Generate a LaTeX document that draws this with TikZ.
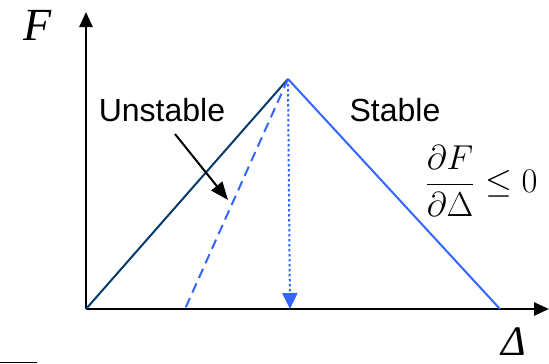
\documentclass[tikz,border=0pt]{standalone}
\usepackage{graphicx}
\usepackage{fontspec}
\setmainfont{Liberation Serif}
\newfontfamily\tagfont{Liberation Sans}
\usetikzlibrary{arrows.meta}

\begin{document}
\begin{tikzpicture}[x=1pt, y=-1pt]
% Force-displacement sketch, drawn on a pixel grid
\providecommand{\fdAxisWidth}{2.6pt}
\providecommand{\fdLineWidth}{2pt}
\definecolor{fdNavy}{RGB}{8,58,108}
\definecolor{fdBlue}{RGB}{51,102,255}
\tikzset{
  axis/.style={draw=black, line width=\fdAxisWidth, -{Triangle[length=15pt,width=13pt]}},
  loadline/.style={draw=fdNavy, line width=\fdLineWidth},
  stabline/.style={draw=fdBlue, line width=\fdLineWidth},
  unstline/.style={draw=fdBlue, line width=\fdLineWidth, dash pattern=on 10pt off 6pt},
  dropline/.style={draw=fdBlue, line width=\fdLineWidth, dash pattern=on 2.5pt off 2.5pt,
    -{Triangle[length=16pt,width=15pt]}},
  pointer/.style={draw=black, line width=2pt, -{Triangle[length=18pt,width=14pt]}},
  axlabel/.style={font=\fontsize{46}{50}\selectfont\itshape, inner sep=0pt, anchor=base},
  tag/.style={font=\tagfont\fontsize{32}{36}\selectfont, inner sep=0pt},
}
\useasboundingbox (0,0) rectangle (549,364);
% Points of the curve
\coordinate (origin) at (86,309);
\coordinate (ytip) at (86,12);
\coordinate (xtip) at (549,309);
\coordinate (peak) at (288,79);
\coordinate (stabEnd) at (500,309);
\coordinate (unstEnd) at (185,309);
\coordinate (dropEnd) at (290,309);
\coordinate (ptrStart) at (175,134);
\coordinate (ptrEnd) at (228,200);
% Axes
\draw[axis] (origin) -- (ytip);
\draw[axis] (origin) -- (xtip);
% Curves
\draw[loadline] (origin) -- (peak);
\draw[stabline] (peak) -- (stabEnd);
\draw[unstline] (peak) -- (unstEnd);
\draw[dropline] (peak) -- (dropEnd);
% Labels
\node[axlabel, font=\fontsize{42}{46}\selectfont\itshape] (dlabel) at (514,355) {Δ};
\node[axlabel] (flabel) at (38,40) {F};
\node[tag] (unst) at (162,110) {Unstable};
\node[tag] (stab) at (395,110) {Stable};
\node[inner sep=0pt, font=\fontsize{17}{20}\selectfont] (slope) at (481,181)
  {\scalebox{2}{$\displaystyle\frac{\partial F}{\partial\Delta}\le 0$}};
\draw[pointer] (ptrStart) -- (ptrEnd);
% Stray rule at the bottom edge
\draw[line width=1.5pt] (0,362.5) -- (37,362.5);
\end{tikzpicture}
\end{document}
